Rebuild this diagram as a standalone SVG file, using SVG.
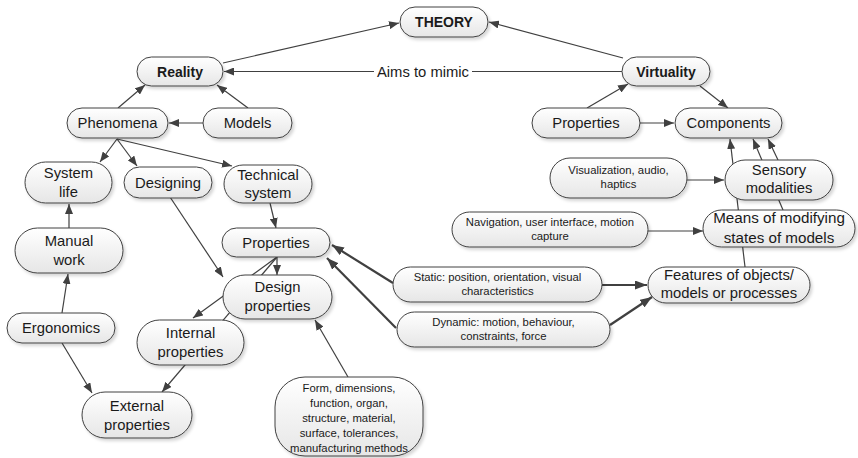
<svg xmlns="http://www.w3.org/2000/svg" width="858" height="458" viewBox="0 0 858 458">
<defs>
<linearGradient id="g" x1="0" y1="0" x2="0" y2="1">
<stop offset="0" stop-color="#ffffff"/>
<stop offset="1" stop-color="#e6e6e6"/>
</linearGradient>
<filter id="sh" x="-10%" y="-10%" width="130%" height="140%">
<feDropShadow dx="2" dy="2.5" stdDeviation="1.5" flood-color="#000" flood-opacity="0.16"/>
</filter>
<marker id="a" markerUnits="userSpaceOnUse" markerWidth="10" markerHeight="8" viewBox="0 0 10 8" refX="10" refY="4" orient="auto">
<path d="M0,0 L10,4 L0,8 z" fill="#404040"/>
</marker>
<marker id="b" markerUnits="userSpaceOnUse" markerWidth="12" markerHeight="9" viewBox="0 0 12 9" refX="12" refY="4.5" orient="auto">
<path d="M0,0 L12,4.5 L0,9 z" fill="#404040"/>
</marker>
</defs>
<style>
.n rect{fill:url(#g);stroke:#404040;stroke-width:1;filter:url(#sh)}
text{font-family:"Liberation Sans",Arial,sans-serif;fill:#1a1a1a;text-anchor:middle}
.t{font-size:14.8px}
.bo{font-size:14px;font-weight:bold}
.s{font-size:11.3px}
.c path{fill:none;stroke:#404040;stroke-width:1.2}
.c .k{stroke-width:2.2}
</style>
<rect width="858" height="458" fill="#ffffff"/>
<g id="connectors" class="c">
<path d="M223,63 L399,23" marker-end="url(#a)"/>
<path d="M623,58 L489,22" marker-end="url(#a)"/>
<path d="M622,71.5 L472,71.5"/>
<path d="M374,71.5 L224,71.5" marker-end="url(#a)"/>
<path d="M118,108 L145,85" marker-end="url(#a)"/>
<path d="M248,108 L217,85" marker-end="url(#a)"/>
<path d="M203,123 L169,123" marker-end="url(#a)"/>
<path d="M117,139 L100,162" marker-end="url(#a)"/>
<path d="M117,139 L137,166" marker-end="url(#a)"/>
<path d="M117,139 L232,166" marker-end="url(#a)"/>
<path d="M69,228 L69,204" marker-end="url(#a)"/>
<path d="M62,313 L68,274" marker-end="url(#a)"/>
<path d="M62,343 L92,393" marker-end="url(#a)"/>
<path d="M170,197 L223,277" marker-end="url(#a)"/>
<path d="M270,203 L276,228" marker-end="url(#a)"/>
<path d="M277,257 L277,275" marker-end="url(#a)"/>
<path d="M277,257 L193,318" marker-end="url(#a)"/>
<path d="M277,257 L162,392" marker-end="url(#a)"/>
<path d="M348,377 L315,320" marker-end="url(#a)"/>
<path class="k" d="M393,283 L332,245" marker-end="url(#b)"/>
<path class="k" d="M396,328 L327,258" marker-end="url(#b)"/>
<path class="k" d="M602,285 L647,285" marker-end="url(#b)"/>
<path class="k" d="M610,325 L652,297" marker-end="url(#b)"/>
<path d="M648,231 L703,231" marker-end="url(#a)"/>
<path d="M687,180 L724,180" marker-end="url(#a)"/>
<path d="M640,123 L674,123" marker-end="url(#a)"/>
<path d="M587,108 L628,84" marker-end="url(#a)"/>
<path d="M700,86 L728,108" marker-end="url(#a)"/>
<path d="M745,267 L730,139" marker-end="url(#a)"/>
<path d="M783,210 L753,139" marker-end="url(#a)"/>
<path d="M778,160 L768,139" marker-end="url(#a)"/>
</g>
<text class="t" x="423" y="76.5">Aims to mimic</text>
<g id="theory" class="n"><rect x="400" y="7" width="88" height="30" rx="15"/><text class="bo" x="444" y="27">THEORY</text></g>
<g id="reality" class="n"><rect x="137" y="57" width="86" height="29" rx="14.5"/><text class="bo" x="180" y="76.5">Reality</text></g>
<g id="virtuality" class="n"><rect x="622" y="57" width="88" height="29" rx="14.5"/><text class="bo" x="666" y="76.5">Virtuality</text></g>
<g id="phenomena" class="n"><rect x="67" y="108" width="101" height="30" rx="15"/><text class="t" x="117.5" y="128">Phenomena</text></g>
<g id="models" class="n"><rect x="203" y="108" width="89" height="30" rx="15"/><text class="t" x="247.5" y="128">Models</text></g>
<g id="system-life" class="n"><rect x="25" y="162" width="87" height="41" rx="20.5"/><text class="t" x="68.5" y="178">System</text><text class="t" x="68.5" y="197">life</text></g>
<g id="designing" class="n"><rect x="124" y="167" width="88" height="31" rx="15.5"/><text class="t" x="168" y="187.5">Designing</text></g>
<g id="technical-system" class="n"><rect x="224" y="165" width="88" height="38" rx="19"/><text class="t" x="268" y="180">Technical</text><text class="t" x="268" y="198">system</text></g>
<g id="manual-work" class="n"><rect x="15" y="228" width="108" height="45" rx="22.5"/><text class="t" x="69" y="246">Manual</text><text class="t" x="69" y="265">work</text></g>
<g id="ergonomics" class="n"><rect x="7" y="313" width="108" height="30" rx="15"/><text class="t" x="61" y="333">Ergonomics</text></g>
<g id="internal-properties" class="n"><rect x="137" y="320" width="107" height="45" rx="22.5"/><text class="t" x="190.5" y="338">Internal</text><text class="t" x="190.5" y="357">properties</text></g>
<g id="external-properties" class="n"><rect x="82" y="392" width="110" height="46" rx="23"/><text class="t" x="137" y="410.5">External</text><text class="t" x="137" y="429.5">properties</text></g>
<g id="properties-left" class="n"><rect x="222" y="228" width="108" height="29" rx="14.5"/><text class="t" x="276" y="247.5">Properties</text></g>
<g id="design-properties" class="n"><rect x="223" y="275" width="109" height="44" rx="22"/><text class="t" x="277.5" y="292">Design</text><text class="t" x="277.5" y="311">properties</text></g>
<g id="form" class="n"><rect x="275" y="377" width="148" height="79" rx="30"/><text class="s" x="349" y="392">Form, dimensions,</text><text class="s" x="349" y="407">function, organ,</text><text class="s" x="349" y="422">structure, material,</text><text class="s" x="349" y="437">surface, tolerances,</text><text class="s" x="349" y="452">manufacturing methods</text></g>
<g id="properties-right" class="n"><rect x="532" y="108" width="108" height="30" rx="15"/><text class="t" x="586" y="128">Properties</text></g>
<g id="components" class="n"><rect x="675" y="108" width="107" height="30" rx="15"/><text class="t" x="728.5" y="128">Components</text></g>
<g id="visualization" class="n"><rect x="550" y="158" width="137" height="40" rx="20"/><text class="s" x="618.5" y="174">Visualization, audio,</text><text class="s" x="618.5" y="188">haptics</text></g>
<g id="sensory-modalities" class="n"><rect x="725" y="160" width="108" height="40" rx="20"/><text class="t" x="779" y="175">Sensory</text><text class="t" x="779" y="193">modalities</text></g>
<g id="navigation" class="n"><rect x="452" y="212" width="196" height="35" rx="17.5"/><text class="s" x="550" y="226">Navigation, user interface, motion</text><text class="s" x="550" y="240">capture</text></g>
<g id="means" class="n"><rect x="703" y="210" width="152" height="37" rx="18.5"/><text class="t" x="779" y="223" style="font-size:15.2px">Means of modifying</text><text class="t" x="779" y="242.5" style="font-size:15.2px">states of models</text></g>
<g id="static" class="n"><rect x="393" y="267" width="209" height="35" rx="17.5"/><text class="s" x="497.5" y="281">Static: position, orientation, visual</text><text class="s" x="497.5" y="295">characteristics</text></g>
<g id="dynamic" class="n"><rect x="397" y="312" width="213" height="35" rx="17.5"/><text class="s" x="503.5" y="326">Dynamic: motion, behaviour,</text><text class="s" x="503.5" y="340">constraints, force</text></g>
<g id="features" class="n"><rect x="648" y="267" width="162" height="36" rx="18"/><text class="t" x="729" y="280">Features of objects/</text><text class="t" x="729" y="298">models or processes</text></g>
</svg>
